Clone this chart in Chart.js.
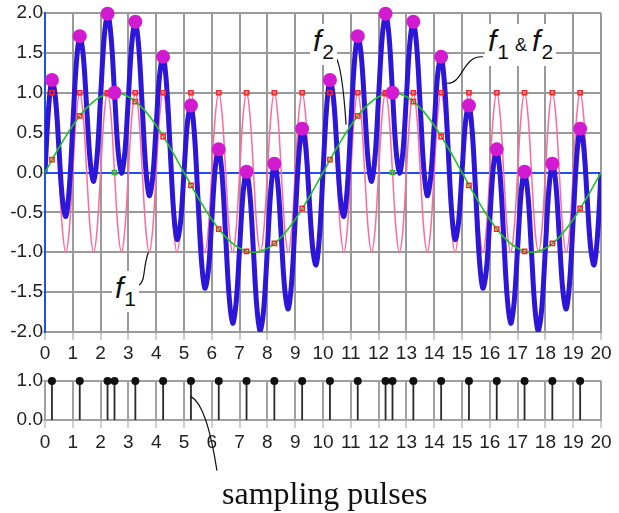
<!DOCTYPE html>
<html><head><meta charset="utf-8">
<script src="https://cdn.jsdelivr.net/npm/chart.js@4.4.0/dist/chart.umd.min.js"></script>
<style>
html,body{margin:0;padding:0;background:#fff;}
#wrap{position:relative;width:619px;height:513px;overflow:hidden;font-family:'Liberation Sans',Arial,sans-serif;}
#top{position:absolute;left:0;top:0;}
#bot{position:absolute;left:0;top:362px;}
.lab{position:absolute;background:#fff;color:#111;font-family:'Liberation Sans',Arial,sans-serif;font-style:italic;font-size:30px;line-height:30px;white-space:nowrap;padding:2px 3px 6px 3px;}
.lab .s{font-size:21px;font-style:normal;position:relative;top:8px;margin-left:1px;}
.lab .amp{font-size:18px;font-style:normal;margin:0 5px 0 6px;}
#sp{position:absolute;left:222px;top:475px;font-family:'Liberation Serif','Times New Roman',serif;font-size:32px;color:#111;white-space:nowrap;}
</style></head>
<body><div id="wrap">
<canvas id="top" width="619" height="365"></canvas>
<canvas id="bot" width="619" height="151"></canvas>
<div class="lab" id="l2" style="left:310px;top:24px;">f<span class="s">2</span></div>
<div class="lab" id="l12" style="left:485px;top:24px;">f<span class="s">1</span><span class="amp">&amp;</span>f<span class="s">2</span></div>
<div class="lab" id="l1" style="left:112px;top:271px;">f<span class="s">1</span></div>
<div id="sp">sampling pulses</div>
</div>
<script>
// ---- data ----
const xTickValues = [0,1,2,3,4,5,6,7,8,9,10,11,12,13,14,15,16,17,18,19,20];
const topYTicks = [-2,-1.5,-1,-0.5,0,0.5,1,1.5,2];
const botYTicks = [0,1];

const xFine = [
0,.125,.25,.375,.5,.625,.75,.875,
1,1.125,1.25,1.375,1.5,1.625,1.75,1.875,
2,2.125,2.25,2.375,2.5,2.625,2.75,2.875,
3,3.125,3.25,3.375,3.5,3.625,3.75,3.875,
4,4.125,4.25,4.375,4.5,4.625,4.75,4.875,
5,5.125,5.25,5.375,5.5,5.625,5.75,5.875,
6,6.125,6.25,6.375,6.5,6.625,6.75,6.875,
7,7.125,7.25,7.375,7.5,7.625,7.75,7.875,
8,8.125,8.25,8.375,8.5,8.625,8.75,8.875,
9,9.125,9.25,9.375,9.5,9.625,9.75,9.875,
10,10.125,10.25,10.375,10.5,10.625,10.75,10.875,
11,11.125,11.25,11.375,11.5,11.625,11.75,11.875,
12,12.125,12.25,12.375,12.5,12.625,12.75,12.875,
13,13.125,13.25,13.375,13.5,13.625,13.75,13.875,
14,14.125,14.25,14.375,14.5,14.625,14.75,14.875,
15,15.125,15.25,15.375,15.5,15.625,15.75,15.875,
16,16.125,16.25,16.375,16.5,16.625,16.75,16.875,
17,17.125,17.25,17.375,17.5,17.625,17.75,17.875,
18,18.125,18.25,18.375,18.5,18.625,18.75,18.875,
19,19.125,19.25,19.375,19.5,19.625,19.75,19.875,
20];

// f1 (pink, fast)
const f1Fine = [
0,.71,1,.71,0,-.71,-1,-.71,
0,.71,1,.71,0,-.71,-1,-.71,
0,.71,1,.71,0,-.71,-1,-.71,
0,.71,1,.71,0,-.71,-1,-.71,
0,.71,1,.71,0,-.71,-1,-.71,
0,.71,1,.71,0,-.71,-1,-.71,
0,.71,1,.71,0,-.71,-1,-.71,
0,.71,1,.71,0,-.71,-1,-.71,
0,.71,1,.71,0,-.71,-1,-.71,
0,.71,1,.71,0,-.71,-1,-.71,
0,.71,1,.71,0,-.71,-1,-.71,
0,.71,1,.71,0,-.71,-1,-.71,
0,.71,1,.71,0,-.71,-1,-.71,
0,.71,1,.71,0,-.71,-1,-.71,
0,.71,1,.71,0,-.71,-1,-.71,
0,.71,1,.71,0,-.71,-1,-.71,
0,.71,1,.71,0,-.71,-1,-.71,
0,.71,1,.71,0,-.71,-1,-.71,
0,.71,1,.71,0,-.71,-1,-.71,
0,.71,1,.71,0,-.71,-1,-.71,
0];

// f1 & f2 (blue, thick)
const sumFine = [
0,.79,1.16,.94,.31,-.33,-.55,-.19,
.59,1.36,1.71,1.47,.81,.14,-.11,.21,
.95,1.68,1.99,1.71,1.00,.29,-.01,.26,
.95,1.63,1.89,1.56,.81,.05,-.29,-.06,
.59,1.23,1.45,1.09,.31,-.48,-.84,-.63,
0,.63,.84,.48,-.31,-1.09,-1.45,-1.23,
-.59,.06,.29,-.05,-.81,-1.56,-1.89,-1.63,
-.95,-.26,.01,-.29,-1.00,-1.71,-1.99,-1.68,
-.95,-.21,.11,-.14,-.81,-1.47,-1.71,-1.36,
-.59,.19,.55,.33,-.31,-.94,-1.16,-.79,
0,.79,1.16,.94,.31,-.33,-.55,-.19,
.59,1.36,1.71,1.47,.81,.14,-.11,.21,
.95,1.68,1.99,1.71,1.00,.29,-.01,.26,
.95,1.63,1.89,1.56,.81,.05,-.29,-.06,
.59,1.23,1.45,1.09,.31,-.48,-.84,-.63,
0,.63,.84,.48,-.31,-1.09,-1.45,-1.23,
-.59,.06,.29,-.05,-.81,-1.56,-1.89,-1.63,
-.95,-.26,.01,-.29,-1.00,-1.71,-1.99,-1.68,
-.95,-.21,.11,-.14,-.81,-1.47,-1.71,-1.36,
-.59,.19,.55,.33,-.31,-.94,-1.16,-.79,
0];

// f2 (green, slow)
const xCoarse = [0,.5,1,1.5,2,2.5,3,3.5,4,4.5,5,5.5,6,6.5,7,7.5,8,8.5,9,9.5,10,
10.5,11,11.5,12,12.5,13,13.5,14,14.5,15,15.5,16,16.5,17,17.5,18,18.5,19,19.5,20];
const f2Coarse = [0,.31,.59,.81,.95,1,.95,.81,.59,.31,0,-.31,-.59,-.81,-.95,-1,-.95,-.81,-.59,-.31,0,
.31,.59,.81,.95,1,.95,.81,.59,.31,0,-.31,-.59,-.81,-.95,-1,-.95,-.81,-.59,-.31,0];

// samples
const sampleTimes = [0.25,1.25,2.25,3.25,4.25,5.25,6.25,7.25,8.25,9.25,10.25,11.25,12.25,13.25,14.25,15.25,16.25,17.25,18.25,19.25];
const f1AtSamples = [1,1,1,1,1,1,1,1,1,1,1,1,1,1,1,1,1,1,1,1];
const f2AtSamples = [.16,.71,.99,.89,.45,-.16,-.71,-.99,-.89,-.45,.16,.71,.99,.89,.45,-.16,-.71,-.99,-.89,-.45];
const sumAtSamples = [1.16,1.71,1.99,1.89,1.45,.84,.29,.01,.11,.55,1.16,1.71,1.99,1.89,1.45,.84,.29,.01,.11,.55];
const extraTimes = [2.5,12.5];
const f1AtExtra = [0,0];
const f2AtExtra = [1,1];
const sumAtExtra = [1,1];

// sampling pulses
const pulseTimes = [0.25,1.25,2.25,2.5,3.25,4.25,5.25,6.25,7.25,8.25,9.25,10.25,11.25,12.25,12.5,13.25,14.25,15.25,16.25,17.25,18.25,19.25];
const pulseHeights = [1,1,1,1,1,1,1,1,1,1,1,1,1,1,1,1,1,1,1,1,1,1];

// ---- helpers ----
const pts = (xs, ys) => xs.map((x, i) => ({x: x, y: ys[i]}));
const stems = (xs, ys) => xs.flatMap((x, i) => [{x: x, y: 0}, {x: x, y: ys[i]}, {x: x, y: null}]);
const FONT = "'Liberation Sans', Arial, sans-serif";
const GRID = '#9a9a9a';
const GRID2 = '#a0a0a0';
const BLUE_AX = '#2050e8';

const leaderTop = {
  id: 'leaderTop',
  afterDraw(chart) {
    const {ctx, scales: {x, y}} = chart;
    ctx.save();
    ctx.strokeStyle = '#111';
    ctx.lineWidth = 1.2;
    let a = [x.getPixelForValue(10.45), y.getPixelForValue(1.45)];
    let b = [x.getPixelForValue(10.83), y.getPixelForValue(0.6)];
    ctx.beginPath(); ctx.moveTo(a[0], a[1]);
    ctx.bezierCurveTo(a[0] + 6, a[1] + 8, b[0] - 2, b[1] - 30, b[0], b[1]); ctx.stroke();
    a = [x.getPixelForValue(15.75), y.getPixelForValue(1.45)];
    b = [x.getPixelForValue(14.45), y.getPixelForValue(1.12)];
    ctx.beginPath(); ctx.moveTo(a[0], a[1]);
    ctx.bezierCurveTo(a[0] - 20, a[1] - 2, b[0] + 16, b[1] + 2, b[0], b[1]); ctx.stroke();
    a = [x.getPixelForValue(3.35), y.getPixelForValue(-1.42)];
    b = [x.getPixelForValue(3.72), y.getPixelForValue(-1.0)];
    ctx.beginPath(); ctx.moveTo(a[0], a[1]);
    ctx.bezierCurveTo(a[0] + 8, a[1] - 4, b[0] - 6, b[1] + 16, b[0], b[1]); ctx.stroke();
    ctx.restore();
  }
};

const leaderBot = {
  id: 'leaderBot',
  afterDraw(chart) {
    const {ctx, scales: {x, y}} = chart;
    const a = [x.getPixelForValue(5.25), y.getPixelForValue(0.6)];
    ctx.save();
    ctx.strokeStyle = '#111';
    ctx.lineWidth = 1.2;
    ctx.beginPath(); ctx.moveTo(a[0], a[1]);
    ctx.bezierCurveTo(a[0] + 12, a[1] + 6, a[0] + 20, a[1] + 35, a[0] + 26, a[1] + 74);
    ctx.stroke();
    ctx.restore();
  }
};

// ---- top chart ----
new Chart(document.getElementById('top'), {
  type: 'line',
  data: {
    datasets: [
      {data: pts(sampleTimes, sumAtSamples).concat(pts(extraTimes, sumAtExtra)), showLine: false, clip: false,
        pointRadius: 7, pointBackgroundColor: '#d21bd0', pointBorderWidth: 0, order: 0},
      {data: pts(extraTimes, f2AtExtra), showLine: false, clip: false, pointStyle: 'circle', pointRadius: 3.5,
        pointBorderColor: '#22bb22', pointBackgroundColor: 'rgba(0,0,0,0)', pointBorderWidth: 1.5, order: 1},
      {data: pts(extraTimes, f1AtExtra), showLine: false, clip: false, pointStyle: 'rect', pointRadius: 3,
        pointBorderColor: '#22bb22', pointBackgroundColor: 'rgba(0,0,0,0)', pointBorderWidth: 1.5, order: 1},
      {data: pts(sampleTimes, f1AtSamples), showLine: false, clip: false, pointStyle: 'rect', pointRadius: 3,
        pointBorderColor: '#ff2222', pointBackgroundColor: 'rgba(0,0,0,0)', pointBorderWidth: 1.5, order: 2},
      {data: pts(sampleTimes, f2AtSamples), showLine: false, clip: false, pointStyle: 'rect', pointRadius: 3,
        pointBorderColor: '#ff2222', pointBackgroundColor: 'rgba(0,0,0,0)', pointBorderWidth: 1.5, order: 2},
      {data: pts(xCoarse, f2Coarse), borderColor: '#22c422', borderWidth: 1.6, pointRadius: 0, tension: 0.4, order: 3},
      {data: pts(xFine, sumFine), borderColor: '#2b16d9', borderWidth: 5, pointRadius: 0, tension: 0.35, order: 4},
      {data: pts(xFine, f1Fine), borderColor: '#ff6a9c', borderWidth: 1.5, pointRadius: 0, tension: 0.35, order: 5}
    ]
  },
  options: {
    responsive: false, animation: false, devicePixelRatio: 1,
    layout: {padding: {left: 0, right: 18, top: 13, bottom: 0}},
    plugins: {legend: {display: false}, tooltip: {enabled: false}},
    scales: {
      x: {
        type: 'linear', min: 0, max: 20,
        afterBuildTicks: s => { s.ticks = xTickValues.map(v => ({value: v})); },
        afterFit: s => { s.height = 33; },
        ticks: {color: '#222', font: {family: FONT, size: 19}, padding: 2, maxRotation: 0, autoSkip: false},
        grid: {color: c => (c.tick && c.tick.value === 0 ? BLUE_AX : GRID), lineWidth: 2, tickLength: 8, tickColor: GRID, tickWidth: 1},
        border: {color: GRID, width: 2}
      },
      y: {
        type: 'linear', min: -2, max: 2,
        afterBuildTicks: s => { s.ticks = topYTicks.map(v => ({value: v})); },
        afterFit: s => { s.width = 45; },
        ticks: {color: '#222', font: {family: FONT, size: 19}, padding: -2, callback: v => v.toFixed(1)},
        grid: {color: c => (c.tick && c.tick.value === 0 ? BLUE_AX : GRID), lineWidth: 2, tickLength: 4, tickColor: GRID, tickWidth: 1},
        border: {color: BLUE_AX, width: 2}
      }
    }
  },
  plugins: [leaderTop]
});

// ---- bottom chart ----
new Chart(document.getElementById('bot'), {
  type: 'line',
  data: {
    datasets: [
      {data: pts(pulseTimes, pulseHeights), showLine: false, clip: false, pointRadius: 4,
        pointBackgroundColor: '#111', pointBorderWidth: 0, order: 0},
      {data: stems(pulseTimes, pulseHeights), borderColor: '#2a2a2a', borderWidth: 1.8, pointRadius: 0,
        spanGaps: false, tension: 0, order: 1}
    ]
  },
  options: {
    responsive: false, animation: false, devicePixelRatio: 1,
    layout: {padding: {left: 0, right: 18, top: 19, bottom: 53}},
    plugins: {legend: {display: false}, tooltip: {enabled: false}},
    scales: {
      x: {
        type: 'linear', min: 0, max: 20,
        afterBuildTicks: s => { s.ticks = xTickValues.map(v => ({value: v})); },
        afterFit: s => { s.height = 40; },
        ticks: {color: '#222', font: {family: FONT, size: 19}, padding: 3, maxRotation: 0, autoSkip: false},
        grid: {color: GRID2, lineWidth: 2, tickLength: 8, tickColor: GRID2, tickWidth: 1},
        border: {color: GRID2, width: 2}
      },
      y: {
        type: 'linear', min: 0, max: 1,
        afterBuildTicks: s => { s.ticks = botYTicks.map(v => ({value: v})); },
        afterFit: s => { s.width = 45; },
        ticks: {color: '#222', font: {family: FONT, size: 19}, padding: -2, callback: v => v.toFixed(1)},
        grid: {color: GRID2, lineWidth: 2, tickLength: 4, tickColor: GRID2, tickWidth: 1},
        border: {color: GRID2, width: 2}
      }
    }
  },
  plugins: [leaderBot]
});
</script>
</body></html>
